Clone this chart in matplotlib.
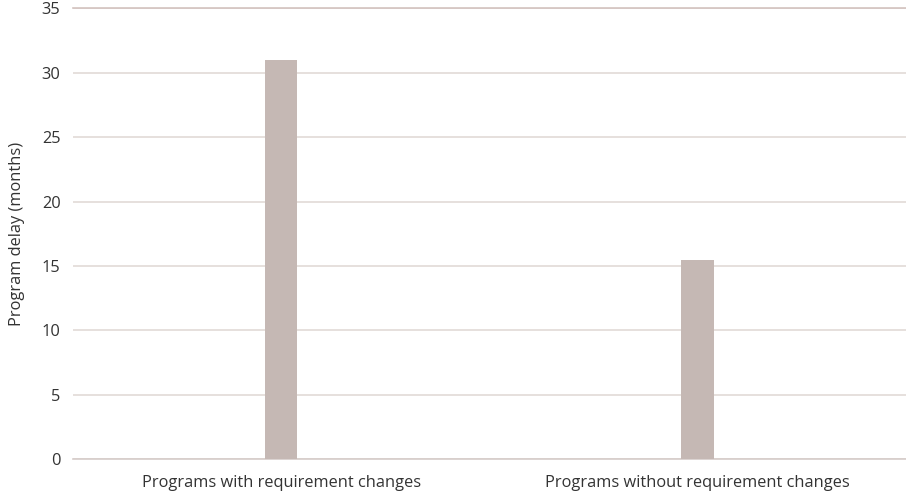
import matplotlib.pyplot as plt

plt.rcParams['font.family'] = ['Open Sans', 'DejaVu Sans']

categories = ["Programs with requirement changes", "Programs without requirement changes"]
delay_months = [31, 15.5]
y_ticks = [0, 5, 10, 15, 20, 25, 30, 35]

text_color = "#333333"
bar_color = "#c5b8b4"
grid_color = "#e2dad7"

fig = plt.figure(figsize=(9.06, 4.99), dpi=100)
ax = fig.add_axes([0.0806, 0.0796, 0.919, 0.904])

x = range(len(categories))
ax.bar(x, delay_months, width=0.077, color=bar_color, zorder=3)

ax.set_xlim(-0.5, 1.5)
ax.set_ylim(0, 35)
ax.set_yticks(y_ticks)
ax.set_xticks(list(x))
ax.set_xticklabels(categories)

ax.yaxis.grid(True, color=grid_color, linewidth=1.2, zorder=0)
ax.set_axisbelow(True)
for side in ["left", "right"]:
    ax.spines[side].set_visible(False)
ax.spines["top"].set_color("#d3c3bf")
ax.spines["bottom"].set_color("#d6ccc9")
ax.spines["top"].set_linewidth(1.2)
ax.spines["bottom"].set_linewidth(1.2)

ax.tick_params(axis="both", length=0, labelsize=11.8, colors=text_color)
ax.tick_params(axis="y", pad=9)
ax.tick_params(axis="x", pad=11)
ax.set_ylabel("Program delay (months)", fontsize=11.8, color=text_color, labelpad=12)

fig.savefig("out.png", dpi=100)
